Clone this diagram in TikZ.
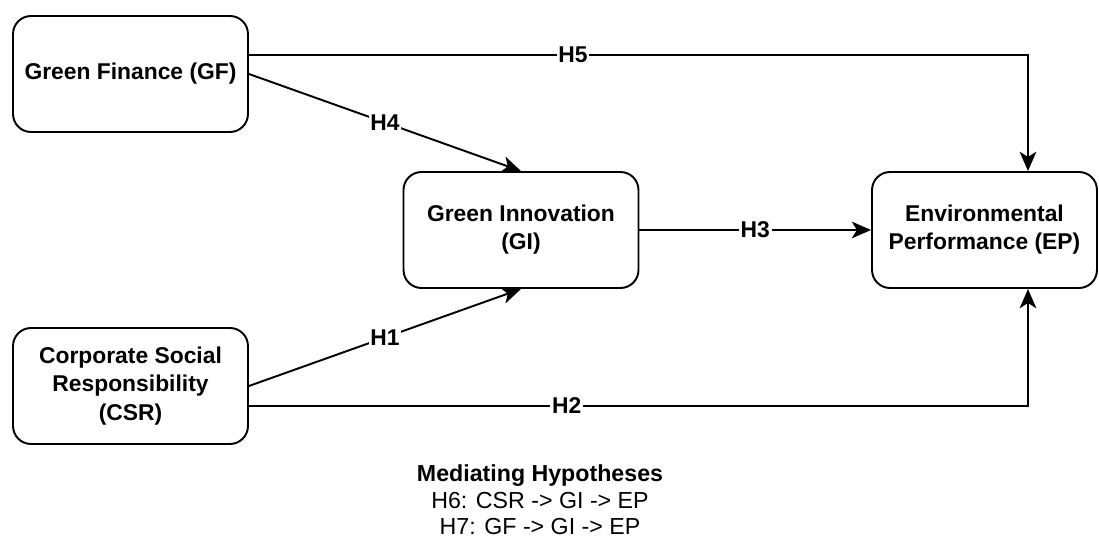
\documentclass[tikz,border=0pt]{standalone}
\usepackage{fontspec}
\setmainfont{Liberation Sans}
\usetikzlibrary{arrows.meta}

\begin{document}
\begin{tikzpicture}[x=0.02cm,y=-0.02cm,>={Stealth[length=11pt,width=9.5pt,inset=3pt]}]
			\tikzstyle{box} = [draw=black,line width=1.1pt,rounded corners=0.36cm,minimum width=4.7cm,minimum height=2.32cm,align=center,inner sep=0pt,font=\bfseries\fontsize{13}{16}\selectfont];
			\tikzstyle{link} = [->,line width=1.1pt];
			\tikzstyle{hlabel} = [fill=white,inner sep=1pt,font=\bfseries\fontsize{13}{16}\selectfont];
			\useasboundingbox (0,0) rectangle (1099,540);
			\node[box] (gf) at (130.5,74) {Green Finance (GF)};
			\node[box] (gi) at (521,230) {Green Innovation\\(GI)};
			\node[box,minimum width=4.5cm] (ep) at (984.5,230) {Environmental\\Performance (EP)};
			\node[box] (csr) at (130.5,386) {Corporate Social\\Responsibility\\(CSR)};
			\draw[link] ([yshift=0.38cm]gf.east) -| node[hlabel,pos=0.208] {H5} ([xshift=0.87cm]ep.north);
			\draw[link] (gf.east) -- node[hlabel] {H4} (gi.north);
			\draw[link] (gi.east) -- node[hlabel] {H3} (ep.west);
			\draw[link] (csr.east) -- node[hlabel] {H1} (gi.south);
			\draw[link] ([yshift=-0.4cm]csr.east) -| node[hlabel,pos=0.204] {H2} ([xshift=0.87cm]ep.south);
			\node[align=center,font=\fontsize{13.2}{15}\selectfont] (hyp) at (540,500) {\textbf{Mediating Hypotheses}\\H6: CSR -> GI -> EP\\H7: GF -> GI -> EP};
		\end{tikzpicture}
\end{document}
